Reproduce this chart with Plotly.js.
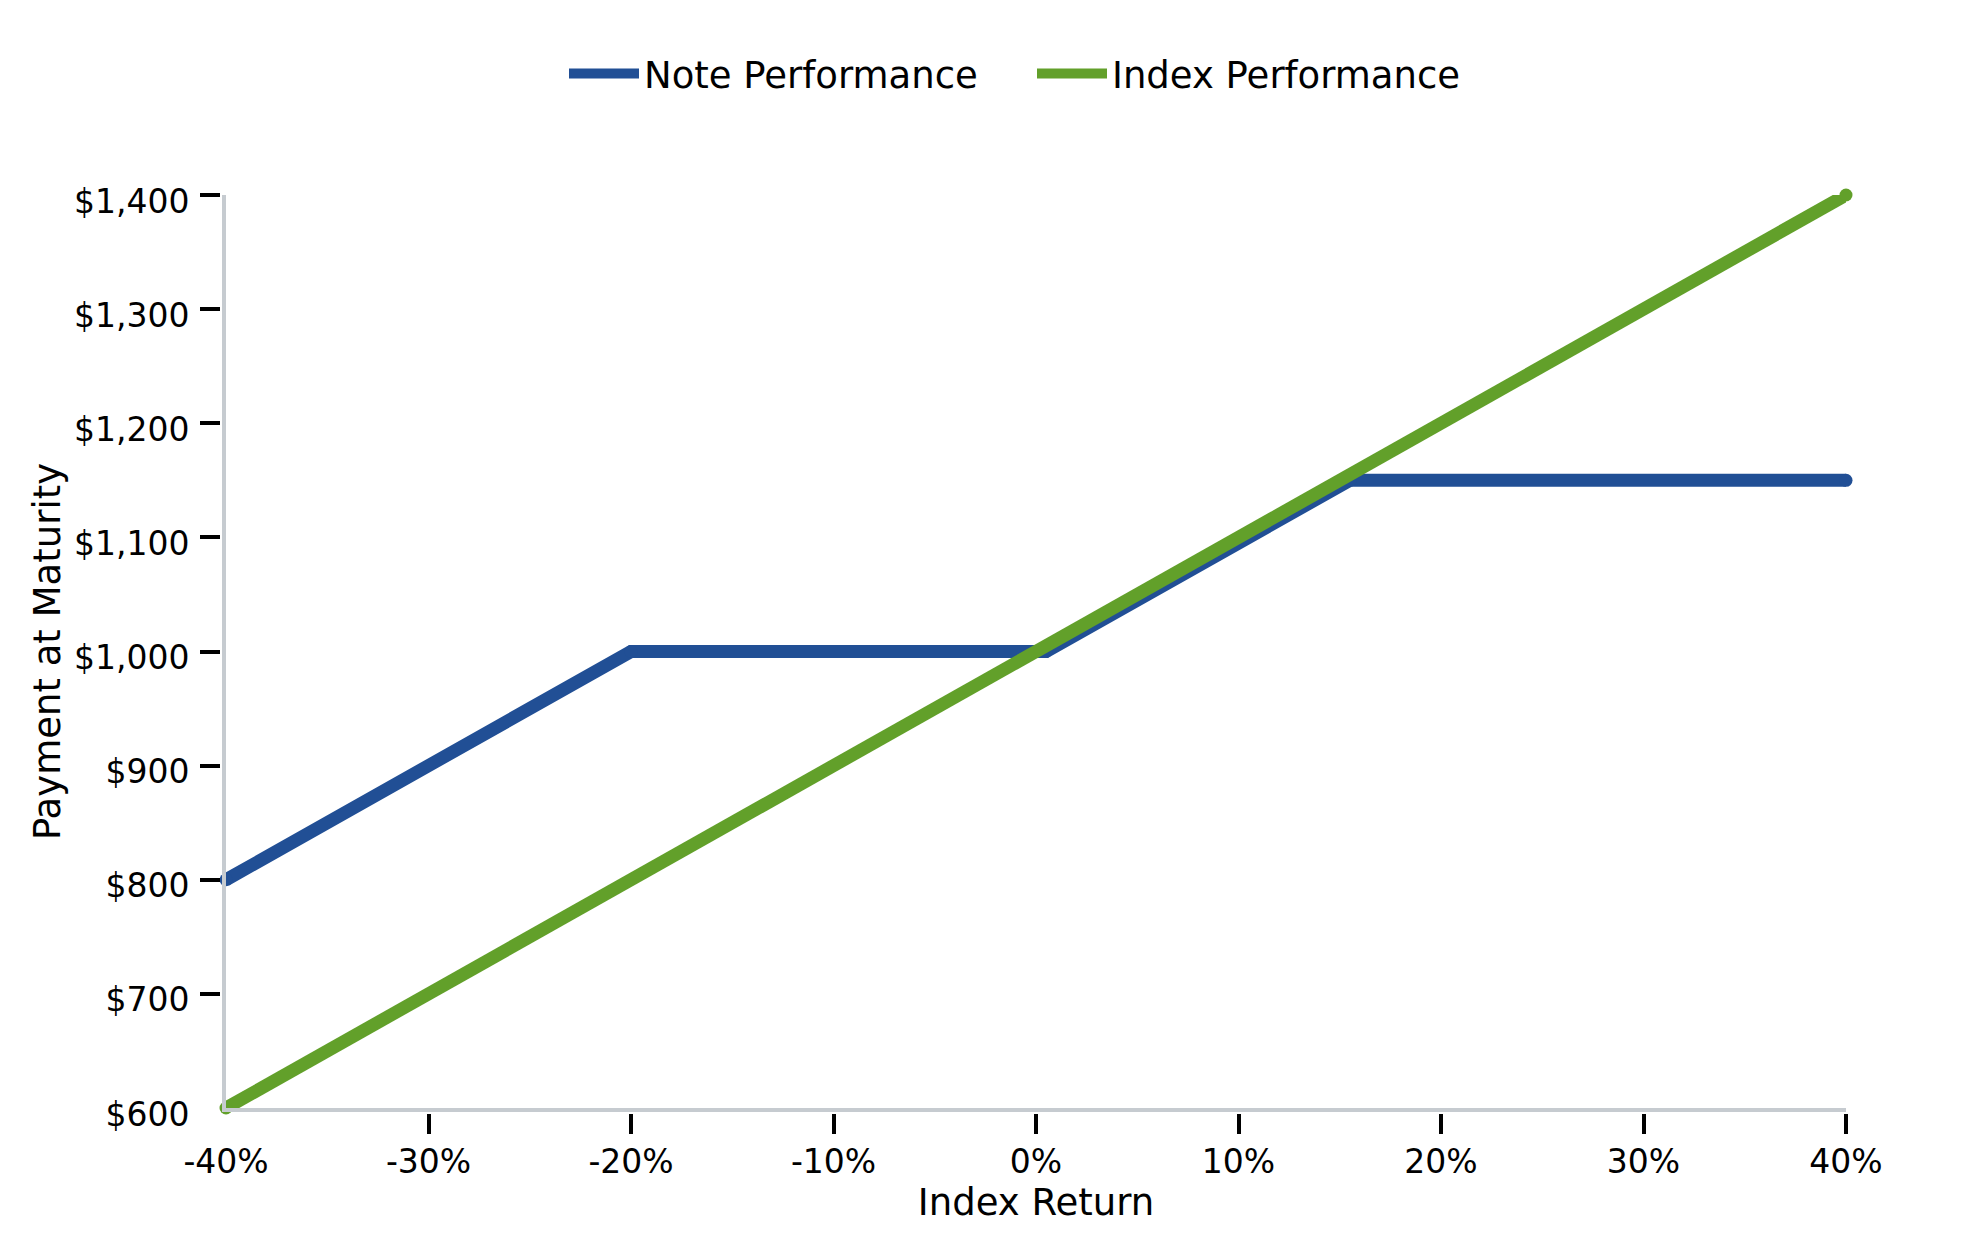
<!DOCTYPE html>
<html>
<head>
<meta charset="utf-8">
<script src="https://cdn.plot.ly/plotly-3.0.1.min.js"></script>
<style>html,body{margin:0;padding:0;background:#fff;}</style>
</head>
<body>
<div id="chart" style="width:1979px;height:1250px;"></div>
<script>
// Data
const noteReturn = [-40, -20, 0.5, 15.5, 40];
const notePayment = [800, 1000, 1000, 1150, 1150];
const indexReturn = [-40, 40];
const indexPayment = [600, 1400];

const xTickVals = [-40, -30, -20, -10, 0, 10, 20, 30, 40];
const xTickText = ['-40%', '-30%', '-20%', '-10%', '0%', '10%', '20%', '30%', '40%'];
const yTickVals = [600, 700, 800, 900, 1000, 1100, 1200, 1300, 1400];
const yTickText = ['$600', '$700', '$800', '$900', '$1,000', '$1,100', '$1,200', '$1,300', '$1,400'];
const xMarkVals = [-30, -20, -10, 0, 10, 20, 30, 40];
const yMarkVals = [700, 800, 900, 1000, 1100, 1200, 1300, 1400];

const FONT = 'DejaVu Sans, sans-serif';
const BLUE = '#214f95';
const GREEN = '#62a02a';

const traces = [
  {
    x: noteReturn, y: notePayment, name: 'Note Performance',
    type: 'scatter', mode: 'lines',
    line: {color: BLUE, width: 13},
    xaxis: 'x', yaxis: 'y', legendgroup: 'note'
  },
  {
    x: noteReturn, y: notePayment, name: 'Note Performance',
    type: 'scatter', mode: 'markers', showlegend: false,
    marker: {color: BLUE, size: 13},
    xaxis: 'x', yaxis: 'y', cliponaxis: false, legendgroup: 'note'
  },
  {
    x: indexReturn, y: indexPayment, name: 'Index Performance',
    type: 'scatter', mode: 'lines',
    line: {color: GREEN, width: 13},
    xaxis: 'x2', yaxis: 'y2', legendgroup: 'index'
  },
  {
    x: indexReturn, y: indexPayment, name: 'Index Performance',
    type: 'scatter', mode: 'markers', showlegend: false,
    marker: {color: GREEN, size: 13},
    xaxis: 'x2', yaxis: 'y2', cliponaxis: false, legendgroup: 'index'
  }
];

const plotW = 1979 - 220 - 133;
const plotH = 1250 - 195 - 137;

const layout = {
  width: 1979, height: 1250,
  margin: {l: 220, r: 133, t: 195, b: 137, pad: 0},
  paper_bgcolor: '#ffffff', plot_bgcolor: '#ffffff',
  font: {family: FONT, color: '#000000', size: 33},
  showlegend: true,
  legend: {
    orientation: 'h', x: (564 - 220) / plotW, xanchor: 'left', y: 1 + (195 - 74) / plotH, yanchor: 'middle',
    font: {family: FONT, size: 37, color: '#000000'},
    itemwidth: 70, traceorder: 'normal',
    entrywidth: 383, entrywidthmode: 'pixels'
  },
  xaxis: {
    domain: [6 / plotW, 1], range: [-40, 40], anchor: 'y',
    tickvals: xTickVals, ticktext: xTickText,
    ticks: 'outside', ticklen: 21, tickcolor: 'rgba(0,0,0,0)', tickwidth: 1,
    showline: true, linecolor: '#c6cbd0', linewidth: 4,
    showgrid: false, zeroline: false,
    tickfont: {family: FONT, size: 33, color: '#000000'},
    title: {text: 'Index Return', font: {family: FONT, size: 37, color: '#000000'}, standoff: 8}
  },
  yaxis: {
    domain: [5 / plotH, 1], range: [600, 1400], anchor: 'x',
    tickvals: yTickVals, ticktext: yTickText,
    ticks: 'outside', ticklen: 26, tickcolor: 'rgba(0,0,0,0)', tickwidth: 1,
    ticklabelshift: 6,
    showline: true, linecolor: '#c6cbd0', linewidth: 4,
    showgrid: false, zeroline: false,
    tickfont: {family: FONT, size: 33, color: '#000000'},
    title: {text: 'Payment at Maturity', font: {family: FONT, size: 37, color: '#000000'}, standoff: 3}
  },
  xaxis2: {
    overlaying: 'x', anchor: 'free', position: 0, range: [-40, 40],
    tickvals: xMarkVals, showticklabels: false,
    ticks: 'outside', ticklen: 20, tickwidth: 4, tickcolor: '#000000',
    showline: false, showgrid: false, zeroline: false
  },
  yaxis2: {
    overlaying: 'y', anchor: 'free', position: 0, range: [600, 1400],
    tickvals: yMarkVals, showticklabels: false,
    ticks: 'outside', ticklen: 20, tickwidth: 4, tickcolor: '#000000',
    showline: false, showgrid: false, zeroline: false
  }
};

Plotly.newPlot('chart', traces, layout, {displayModeBar: false, staticPlot: true});
</script>
</body>
</html>
